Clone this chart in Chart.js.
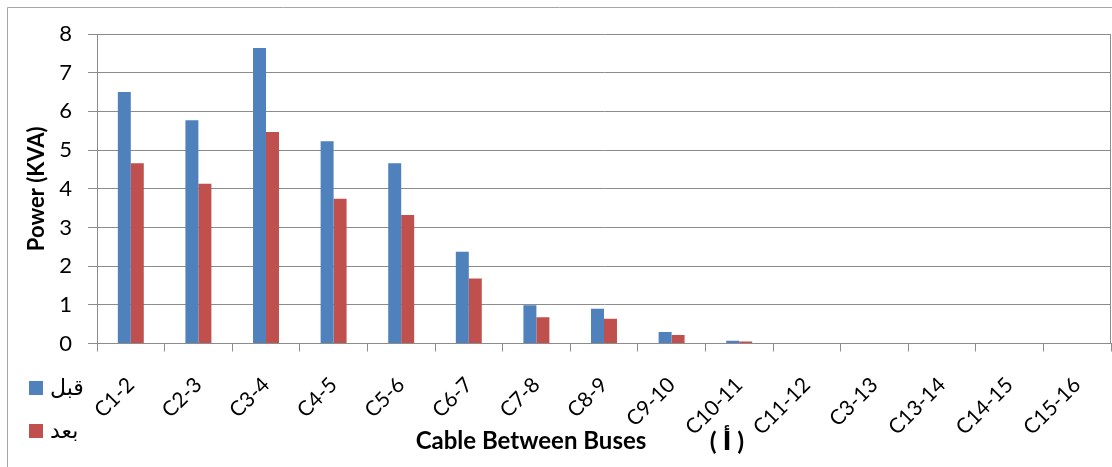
<!DOCTYPE html>
<html>
<head>
<meta charset="utf-8">
<script src="https://cdn.jsdelivr.net/npm/chart.js@4.4.1/dist/chart.umd.min.js"></script>
<style>
  html, body { margin: 0; padding: 0; background: #ffffff; }
  #wrap { width: 1112px; height: 467px; }
</style>
</head>
<body>
<div id="wrap"><canvas id="chart" width="1112" height="467"></canvas></div>
<script>
// Cable segments between buses
const categories = ['C1-2', 'C2-3', 'C3-4', 'C4-5', 'C5-6', 'C6-7', 'C7-8', 'C8-9',
                    'C9-10', 'C10-11', 'C11-12', 'C3-13', 'C13-14', 'C14-15', 'C15-16'];
// Power loss per cable (KVA)
const beforeValues = [6.50, 5.77, 7.64, 5.23, 4.66, 2.37, 0.99, 0.90, 0.30, 0.07, 0, 0, 0, 0, 0];
const afterValues  = [4.66, 4.13, 5.47, 3.74, 3.32, 1.68, 0.68, 0.64, 0.22, 0.05, 0, 0, 0, 0, 0];
const seriesNames = ['قبل', 'بعد'];
const yTicks = [0, 1, 2, 3, 4, 5, 6, 7, 8];
const xTitle = 'Cable Between Buses';
const yTitle = 'Power (KVA)';
const figureTag = '( أ )';

const FONT = 'Lato, "DejaVu Sans", sans-serif';
const GRID = '#8c8c8c';
const colors = ['#4F81BD', '#C0504D'];

// Frame, right edge, x-axis title, figure tag and side legend
const decorations = {
  id: 'decorations',
  beforeDraw(chart) {
    const ctx = chart.ctx;
    ctx.save();
    ctx.strokeStyle = '#a6a6a6';
    ctx.lineWidth = 1;
    ctx.beginPath();
    ctx.moveTo(7.5, 467);
    ctx.lineTo(7.5, 7.5);
    ctx.lineTo(1112, 7.5);
    ctx.stroke();
    ctx.restore();
  },
  afterDraw(chart) {
    const ctx = chart.ctx;
    const area = chart.chartArea;
    ctx.save();
    ctx.strokeStyle = GRID;
    ctx.lineWidth = 1;
    ctx.beginPath();
    ctx.moveTo(area.right - 0.5, area.top);
    ctx.lineTo(area.right - 0.5, area.bottom);
    ctx.stroke();

    ctx.fillStyle = '#000000';
    ctx.textBaseline = 'middle';
    ctx.textAlign = 'center';
    ctx.font = 'bold 24px ' + FONT;
    ctx.fillText(xTitle, 531, 441);
    ctx.font = 'bold 25px ' + FONT;
    ctx.fillText(figureTag, 727, 442);

    chart.data.datasets.forEach((ds, i) => {
      const y = 388 + i * 43;
      ctx.fillStyle = ds.backgroundColor;
      ctx.fillRect(29, y - 7, 14, 14);
      ctx.fillStyle = '#000000';
      ctx.textAlign = 'left';
      ctx.font = '22px ' + FONT;
      ctx.fillText(ds.label, 50, y);
    });
    ctx.restore();
  }
};

new Chart(document.getElementById('chart'), {
  type: 'bar',
  data: {
    labels: categories,
    datasets: [
      { label: seriesNames[0], data: beforeValues, backgroundColor: colors[0] },
      { label: seriesNames[1], data: afterValues, backgroundColor: colors[1] }
    ]
  },
  options: {
    responsive: false,
    animation: false,
    devicePixelRatio: 1,
    layout: { padding: { top: 34, right: 1, left: 0, bottom: 0 } },
    datasets: { bar: { categoryPercentage: 0.384, barPercentage: 1.0, borderWidth: 0 } },
    plugins: { legend: { display: false }, tooltip: { enabled: false } },
    scales: {
      x: {
        offset: true,
        grid: { offset: true, drawOnChartArea: false, drawTicks: true, tickLength: 8, color: GRID, lineWidth: 1 },
        border: { color: GRID, width: 1 },
        ticks: { color: '#000000', font: { family: FONT, size: 21 }, minRotation: 45, maxRotation: 45, padding: 21, autoSkip: false },
        afterFit(scale) {
          scale.height = 123.5;
          scale.paddingLeft = 0;
          scale.paddingRight = 0;
        }
      },
      y: {
        min: 0,
        max: 8,
        afterBuildTicks(scale) { scale.ticks = yTicks.map(v => ({ value: v })); },
        grid: { color: GRID, lineWidth: 1, drawTicks: true, tickLength: 9 },
        border: { color: GRID, width: 1 },
        ticks: { color: '#000000', font: { family: FONT, size: 22 }, padding: 16 },
        title: { display: true, text: yTitle, color: '#000000', font: { family: FONT, size: 22, weight: 'bold' }, padding: { top: 24, bottom: 0 } },
        afterFit(scale) { scale.width = 97; }
      }
    }
  },
  plugins: [decorations]
});
</script>
</body>
</html>
